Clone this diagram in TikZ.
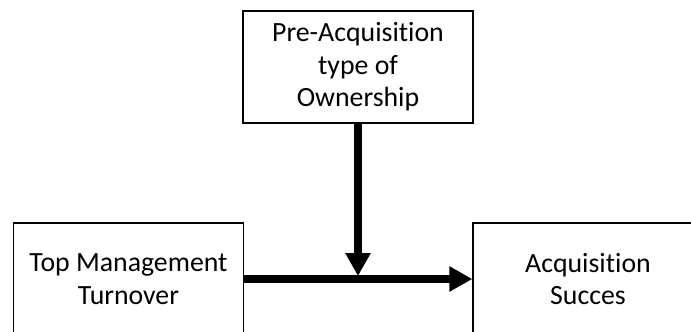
\documentclass[tikz,border=0pt]{standalone}
\usepackage{fontspec}
\setmainfont{Carlito}[RawFeature={-liga}]
\usetikzlibrary{arrows.meta}
\tikzset{
  boxnode/.style={draw=black, line width=1.3pt, minimum width=230pt, minimum height=112pt, inner sep=0pt, align=center, font=\fontsize{27.8pt}{32.5pt}\selectfont},
  flow/.style={line width=7.5pt, -{Triangle[length=23pt,width=24pt]}}
}
\begin{document}
\begin{tikzpicture}[x=1pt,y=-1pt]
\useasboundingbox (0,0) rectangle (691,332);
\node[boxnode] (own) at (358,67) {Pre-Acquisition\\type of\\Ownership};
\node[boxnode] (tmt) at (128.5,279) {Top Management\\Turnover};
\node[boxnode] (suc) at (588,279) {Acquisition\\Succes};
\coordinate (meet) at (358,276);
\draw[flow] (tmt.east) -- (suc.west);
\draw[flow] (own.south) -- (meet);
\end{tikzpicture}
\end{document}
